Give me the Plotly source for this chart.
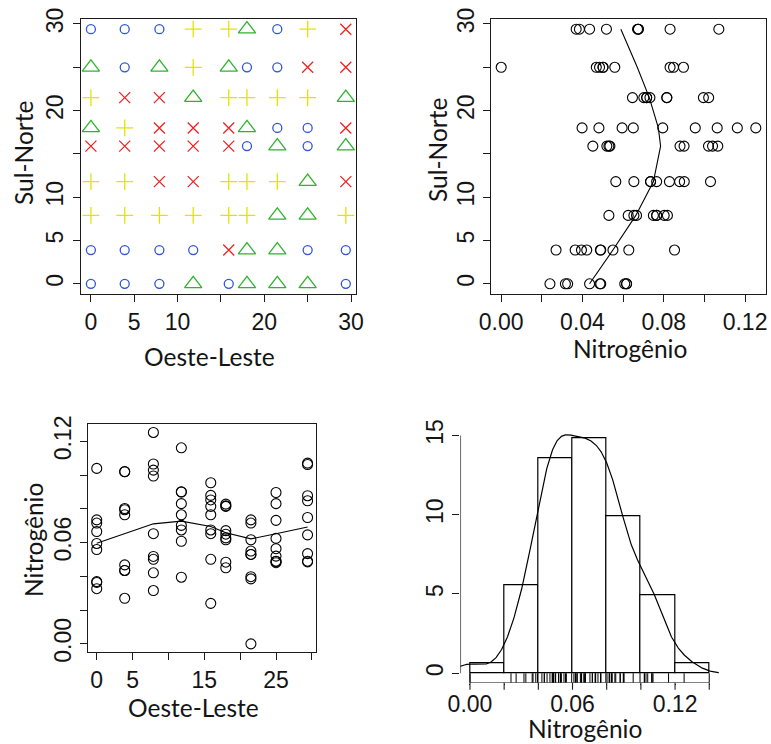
import numpy as np
import plotly.graph_objects as go

# ---------------- data ----------------
coord_x = [0, 3.9, 7.9, 11.8, 15.9, 18.0, 21.5, 25.0, 29.4]   # Oeste-Leste of the 9 grid columns
coord_y = [0, 3.9, 7.9, 11.8, 15.9, 18.0, 21.5, 25.0, 29.4]   # Sul-Norte of the 9 grid rows

# Nitrogênio, one list per row (south -> north), columns west -> east
n_row0 = [0.0327, 0.0435, 0.0316, 0.0608, 0.0240, 0.0617, 0.0617, 0.0490, 0.0486]
n_row1 = [0.0364, 0.0270, 0.0421, 0.0395, 0.0853, 0.0628, 0.0550, 0.0488, 0.0490]
n_row2 = [0.0666, 0.0802, 0.0653, 0.0765, 0.0765, 0.0818, 0.0530, 0.0625, 0.0749]
n_row3 = [0.0735, 0.0765, 0.1030, 0.0901, 0.0653, 0.0828, 0.0735, 0.0564, 0.0878]
n_row4 = [0.1040, 0.1020, 0.1066, 0.0900, 0.0880, 0.0451, 0.0530, 0.0520, 0.0535]
n_row5 = [0.0595, 0.0795, 0.1253, 0.1162, 0.0955, 0.0650, 0.0398, 0.0481, 0.1063]
n_row6 = [0.0716, 0.1021, 0.0995, 0.0702, 0.0815, 0.0815, 0.0716, 0.0732, 0.0646]
n_row7 = [0.0559, 0.0468, 0.0501, 0.0831, 0.0501, 0.0484, 0.0000, 0.0897, 0.0848]
n_row8 = [0.0369, 0.0435, 0.0518, 0.0675, 0.0675, 0.0671, 0.0385, 0.0831, 0.1071]

# quartile class drawn in the first panel (1 = 1st quartile ... 4 = 4th quartile)
q_row0 = [1, 1, 1, 2, 1, 2, 2, 2, 1]
q_row1 = [1, 1, 1, 1, 4, 2, 2, 1, 1]
q_row2 = [3, 3, 3, 3, 3, 3, 2, 2, 3]
q_row3 = [3, 3, 4, 4, 3, 3, 3, 2, 4]
q_row4 = [4, 4, 4, 4, 4, 1, 2, 1, 2]
q_row5 = [2, 3, 4, 4, 4, 2, 1, 1, 4]
q_row6 = [3, 4, 4, 2, 3, 3, 3, 3, 2]
q_row7 = [2, 1, 2, 3, 2, 1, 1, 4, 4]
q_row8 = [1, 1, 1, 3, 3, 2, 1, 3, 4]

hist_breaks = [0.00, 0.02, 0.04, 0.06, 0.08, 0.10, 0.12, 0.14]

# ---------------- assemble ----------------
rows_n = [n_row0, n_row1, n_row2, n_row3, n_row4, n_row5, n_row6, n_row7, n_row8]
rows_q = [q_row0, q_row1, q_row2, q_row3, q_row4, q_row5, q_row6, q_row7, q_row8]
X, Y, Z, Q = [], [], [], []
for i, yv in enumerate(coord_y):
    for j, xv in enumerate(coord_x):
        X.append(xv); Y.append(yv); Z.append(rows_n[i][j]); Q.append(rows_q[i][j])
X = np.array(X, float); Y = np.array(Y, float); Z = np.array(Z, float); Q = np.array(Q)


def r_lowess(x, y, f=2/3, iters=3):
    """Port of R's clowess."""
    o = np.argsort(x, kind="stable")
    x = np.asarray(x, float)[o]; y = np.asarray(y, float)[o]
    n = len(x)
    ns = max(2, min(n, int(f * n + 1e-7)))
    delta = 0.01 * (x[-1] - x[0])
    rw = np.ones(n)
    ys = np.zeros(n)

    def lowest(xs, nleft, nright, userw):
        rng = x[-1] - x[0]
        h = max(xs - x[nleft], x[nright] - xs)
        h9, h1 = 0.999 * h, 0.001 * h
        w = np.zeros(n)
        a = 0.0
        j = nleft
        while j < n:
            r = abs(x[j] - xs)
            if r <= h9:
                w[j] = 1.0 if r <= h1 else (1 - (r / h) ** 3) ** 3
                if userw:
                    w[j] *= rw[j]
                a += w[j]
            elif x[j] > xs:
                break
            j += 1
        nrt = j - 1
        if a <= 0:
            return None
        w[nleft:nrt + 1] /= a
        if h > 0:
            aa = np.sum(w[nleft:nrt + 1] * x[nleft:nrt + 1])
            b = xs - aa
            c = np.sum(w[nleft:nrt + 1] * (x[nleft:nrt + 1] - aa) ** 2)
            if np.sqrt(c) > 0.001 * rng:
                b /= c
                w[nleft:nrt + 1] *= (b * (x[nleft:nrt + 1] - aa) + 1)
        return float(np.sum(w[nleft:nrt + 1] * y[nleft:nrt + 1]))

    it = 1
    while it <= iters + 1:
        nleft, nright, last, i = 0, ns - 1, -1, 0
        while True:
            if nright < n - 1:
                d1 = x[i] - x[nleft]
                d2 = x[nright + 1] - x[i]
                if d1 > d2:
                    nleft += 1; nright += 1
                    continue
            v = lowest(x[i], nleft, nright, it > 1)
            ys[i] = y[i] if v is None else v
            if last < i - 1:
                denom = x[i] - x[last]
                for j in range(last + 1, i):
                    al = (x[j] - x[last]) / denom
                    ys[j] = al * ys[i] + (1 - al) * ys[last]
            last = i
            cut = x[last] + delta
            i = last + 1
            while i < n:
                if x[i] > cut:
                    break
                if x[i] == x[last]:
                    ys[i] = ys[last]; last = i
                i += 1
            i = max(last + 1, i - 1)
            if last >= n - 1:
                break
        res = y - ys
        sc = np.sum(np.abs(res)) / n
        if it > iters:
            break
        ar = np.sort(np.abs(res))
        m1 = n // 2
        if n % 2 == 0:
            cmad = 3 * (ar[m1] + ar[n - m1 - 1])
        else:
            cmad = 6 * ar[m1]
        if cmad < 1e-7 * sc:
            break
        c9, c1 = 0.999 * cmad, 0.001 * cmad
        r = np.abs(res)
        rw = np.where(r <= c1, 1.0, np.where(r <= c9, (1 - (r / cmad) ** 2) ** 2, 0.0))
        it += 1
    return x, ys


def r_density(v, npts=512):
    v = np.asarray(v, float)
    n = len(v)
    sd = np.std(v, ddof=1)
    iqr = np.subtract(*np.percentile(v, [75, 25]))
    bw = 0.9 * min(sd, iqr / 1.34) * n ** (-0.2)
    g = np.linspace(v.min() - 3 * bw, v.max() + 3 * bw, npts)
    d = np.exp(-0.5 * ((g[:, None] - v[None, :]) / bw) ** 2).sum(1) / (n * bw * np.sqrt(2 * np.pi))
    return g, d


def ext(lo, hi):
    d = 0.04 * (hi - lo)
    return [lo - d, hi + d]


# ---------------- styles ----------------
INK = "#1c1c1c"
TICKFONT = dict(family="Liberation Sans, Arial, sans-serif", size=23, color="#141414")
TITLEFONT = dict(family="Lato, Liberation Sans, sans-serif", size=24.5, color="#141414")
W, H = 771, 744

fig = go.Figure()

# ---------- panel 1: locations by quartile ----------
sty = {
    1: dict(symbol="circle-open", size=9, color="#2f55d9"),
    2: dict(symbol="triangle-up-open", size=15, color="#2fb42f"),
    3: dict(symbol="cross-thin-open", size=12, color="#e3e300"),
    4: dict(symbol="x-thin-open", size=11, color="#f22222"),
}
for k in [1, 2, 3, 4]:
    m = Q == k
    s = sty[k]
    fig.add_trace(go.Scatter(x=X[m], y=Y[m], mode="markers", xaxis="x", yaxis="y",
                             marker=dict(symbol=s["symbol"], size=s["size"], color=s["color"],
                                         line=dict(color=s["color"], width=1.3)),
                             showlegend=False, hoverinfo="skip"))

# ---------- panel 2: Nitrogenio vs Sul-Norte ----------
fig.add_trace(go.Scatter(x=Z, y=Y, mode="markers", xaxis="x2", yaxis="y2",
                         marker=dict(symbol="circle-open", size=10, color="black",
                                     line=dict(color="black", width=1.1)),
                         showlegend=False, hoverinfo="skip"))
ly_x, ly_fit = r_lowess(Y, Z)
fig.add_trace(go.Scatter(x=ly_fit, y=ly_x, mode="lines", xaxis="x2", yaxis="y2",
                         line=dict(color="black", width=1.1), showlegend=False, hoverinfo="skip"))

# ---------- panel 3: Nitrogenio vs Oeste-Leste ----------
fig.add_trace(go.Scatter(x=X, y=Z, mode="markers", xaxis="x3", yaxis="y3",
                         marker=dict(symbol="circle-open", size=10, color="black",
                                     line=dict(color="black", width=1.1)),
                         showlegend=False, hoverinfo="skip"))
lx_x, lx_fit = r_lowess(X, Z)
fig.add_trace(go.Scatter(x=lx_x, y=lx_fit, mode="lines", xaxis="x3", yaxis="y3",
                         line=dict(color="black", width=1.1), showlegend=False, hoverinfo="skip"))

# ---------- panel 4: histogram + density + rug ----------
br = np.array(hist_breaks)
cnt, _ = np.histogram(Z, bins=br)
dens = cnt / (len(Z) * np.diff(br))
kg, kd = r_density(Z)
ymax4 = max(dens.max(), kd.max())
yr4 = ext(0, ymax4)
xr4 = ext(br[0], br[-1])

fig.add_trace(go.Bar(x=(br[:-1] + br[1:]) / 2, y=dens, width=np.diff(br), xaxis="x4", yaxis="y4",
                     marker=dict(color="white", line=dict(color="black", width=1.2)),
                     showlegend=False, hoverinfo="skip"))
fig.add_trace(go.Scatter(x=kg, y=kd, mode="lines", xaxis="x4", yaxis="y4",
                         line=dict(color="black", width=1.2), showlegend=False, hoverinfo="skip"))
rx, ry = [], []
for v in Z:
    rx += [v, v, None]; ry += [yr4[0], 0, None]
for v in [br[0], br[-1]]:
    rx += [v, v, None]; ry += [yr4[0], 0, None]
fig.add_trace(go.Scatter(x=rx, y=ry, mode="lines", xaxis="x4", yaxis="y4",
                         line=dict(color="black", width=1), showlegend=False, hoverinfo="skip"))

# ---------------- axes ----------------
def dom_x(a, b):
    return [a / W, b / W]


def dom_y(top, bot):
    return [1 - bot / H, 1 - top / H]


common = dict(showgrid=False, zeroline=False, ticks="outside", ticklen=7, tickwidth=1.1,
              tickcolor=INK, tickfont=TICKFONT, showline=True, linecolor=INK, linewidth=1.3,
              mirror=True, automargin=False)

xr_c = ext(min(coord_x), max(coord_x))
yr_c = ext(min(coord_y), max(coord_y))
zr = ext(Z.min(), Z.max())

t30 = [0, 5, 10, 15, 20, 25, 30]
t30_txt = ["0", "5", "10", "", "20", "", "30"]

P4_TOP, P4_BOT = 425.3, 682.8
fig.update_layout(
    width=W, height=H, margin=dict(l=0, r=0, t=0, b=0, autoexpand=False),
    plot_bgcolor="white", paper_bgcolor="white", bargap=0,
    xaxis=dict(domain=dom_x(80.7, 356), range=xr_c, tickvals=t30, ticktext=t30_txt, anchor="y", **common),
    yaxis=dict(domain=dom_y(19, 294), range=yr_c, tickvals=t30, ticktext=t30_txt, tickangle=-90,
               anchor="x", **common),
    xaxis2=dict(domain=dom_x(491, 766), range=zr, tickvals=[0, 0.02, 0.04, 0.06, 0.08, 0.10, 0.12],
                ticktext=["0.00", "", "0.04", "", "0.08", "", "0.12"], anchor="y2", **common),
    yaxis2=dict(domain=dom_y(19, 294), range=yr_c, tickvals=t30, ticktext=t30_txt, tickangle=-90,
                anchor="x2", **common),
    xaxis3=dict(domain=dom_x(88.3, 316), range=xr_c, tickvals=t30,
                ticktext=["0", "5", "", "15", "", "25", ""], anchor="y3", **common),
    yaxis3=dict(domain=dom_y(424, 652.3), range=zr, tickvals=[0, 0.02, 0.04, 0.06, 0.08, 0.10, 0.12],
                ticktext=["0.00", "", "", "0.06", "", "", "0.12"], tickangle=-90, anchor="x3", **common),
    xaxis4=dict(domain=dom_x(460.4, 718.8), range=xr4, tickvals=list(br),
                ticktext=["0.00", "", "", "0.06", "", "", "0.12", ""], anchor="y4",
                **{**common, "showline": False, "mirror": False, "ticklen": 1}),
    yaxis4=dict(domain=dom_y(P4_TOP, P4_BOT), range=yr4, tickvals=[0, 5, 10, 15],
                ticktext=["0", "5", "10", "15"], tickangle=-90, anchor="x4",
                **{**common, "showline": False, "mirror": False}),
)

# axis lines of the histogram (R style: only between first and last tick)
fig.add_shape(type="line", xref="x4", yref="y4", x0=br[0], x1=br[-1], y0=yr4[0], y1=yr4[0],
              line=dict(color=INK, width=1.3))
fig.add_shape(type="line", xref="x4", yref="y4", x0=xr4[0], x1=xr4[0], y0=0, y1=15,
              line=dict(color=INK, width=1.3))
# tick marks of the histogram x axis (labels sit closer to the axis than in the other panels)
yb = 1 - P4_BOT / H
for v in br:
    fig.add_shape(type="line", xref="x4", yref="paper", x0=v, x1=v, y0=yb, y1=yb - 7 / H,
                  line=dict(color=INK, width=1.1))

# axis titles
def title(text, px, py, angle=0):
    fig.add_annotation(text=text, x=px / W, y=1 - py / H, xref="paper", yref="paper",
                       xanchor="center", yanchor="middle", showarrow=False, textangle=angle,
                       font=TITLEFONT)

title("Oeste-Leste", 210, 356)
title("Sul-Norte", 23, 153, -90)
title("Sul-Norte", 437, 150, -90)
title("Nitrogênio", 630, 348)
title("Nitrogênio", 33, 540, -90)
title("Oeste-Leste", 193, 707)
title("Nitrogênio", 585, 728)

fig.write_html("out.html")
